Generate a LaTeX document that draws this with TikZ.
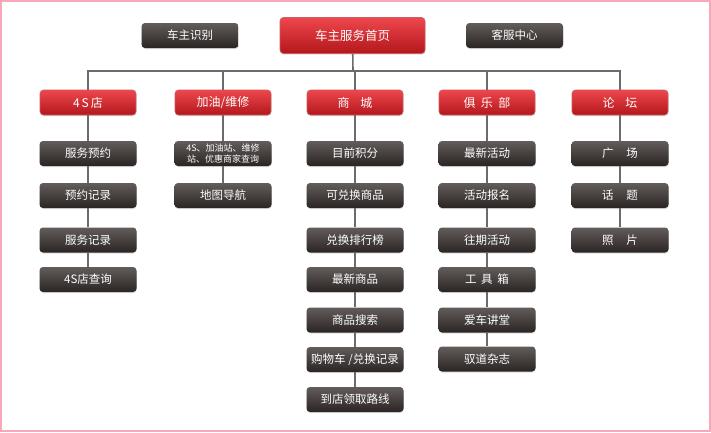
\documentclass[tikz,border=0pt]{standalone}
\usepackage{fontspec}
\setmainfont{Noto Sans CJK SC}
\usetikzlibrary{positioning, shadows}

\definecolor{redtop}{HTML}{EE474D}
\definecolor{redbot}{HTML}{B2171C}
\definecolor{darktop}{HTML}{625C5B}
\definecolor{darkbot}{HTML}{2A2422}
\definecolor{linegray}{HTML}{6B6B6B}
\definecolor{framepink}{HTML}{F7A9BB}

\begin{document}
\begin{tikzpicture}[x=1pt, y=-1pt,
  greybox/.style={rectangle, rounded corners=3.5pt, top color=darktop, bottom color=darkbot,
    draw=none, text=white, minimum width=97pt, minimum height=25pt, inner sep=1pt,
    align=center, font=\fontsize{11.5}{13}\selectfont,
    drop shadow={shadow xshift=0.4pt, shadow yshift=-1pt, opacity=0.25}},
  redbox/.style={rectangle, rounded corners=3.5pt, top color=redtop, bottom color=redbot,
    draw=redbot!70!white, line width=0.6pt, text=white, minimum width=96pt, minimum height=25pt,
    font=\fontsize{12}{14}\selectfont,
    drop shadow={shadow xshift=0.4pt, shadow yshift=-1pt, opacity=0.25}},
  link/.style={draw=linegray, line width=1.6pt}]

% Page and frame
\fill[white] (0,0) rectangle (711,432);
\useasboundingbox (0,0) rectangle (711,432);
\draw[framepink, line width=2pt] (1,1) rectangle (710,431);

% Top row
\node[greybox] (owner) at (190,35.5) {车主识别};
\node[redbox, minimum width=145pt, minimum height=36pt, font=\fontsize{12.5}{14}\selectfont] (home) at (352.5,35.5) {车主服务首页};
\node[greybox] (service) at (514.5,35.5) {客服中心};

% Categories
\node[redbox] (dealer-0) at (88,102.5) {4\,S\,店};
\node[redbox] (fuel-0) at (223,102.5) {加油/维修};
\node[redbox] (mall-0) at (355,102.5) {商\hspace{0.9em}城};
\node[redbox] (club-0) at (487,102.5) {俱\hspace{0.45em}乐\hspace{0.45em}部};
\node[redbox] (forum-0) at (620,102.5) {论\hspace{0.9em}坛};

% Bus
\coordinate (bus) at (353,71);
\draw[link] (home) -- (bus);
\draw[link] (dealer-0) -- (dealer-0 |- bus) -- (forum-0 |- bus) -- (forum-0);
\foreach \n in {fuel, mall, club}
  \draw[link] (\n-0) -- (\n-0 |- bus);

% 4S store
\foreach \y/\txt [count=\i, remember=\i as \j (initially 0)] in {153.5/服务预约, 195.5/预约记录, 240/服务记录, 279.5/4S店查询} {
  \node[greybox] (dealer-\i) at (88,\y) {\txt};
  \draw[link] (dealer-\j) -- (dealer-\i);
}

% Fuel / repair
\node[greybox, font=\fontsize{9}{10.5}\selectfont] (fuel-1) at (223,153.5) {4S、加油站、维修\\站、优惠商家查询};
\node[greybox] (fuel-2) at (223,195.5) {地图导航};
\draw[link] (fuel-0) -- (fuel-1);
\draw[link] (fuel-1) -- (fuel-2);

% Mall
\foreach \y/\txt [count=\i, remember=\i as \j (initially 0)] in {153.5/目前积分, 195.5/可兑换商品, 240/兑换排行榜, 279.5/最新商品, 320/商品搜索, 359.5/购物车 \slash 兑换记录, 399.5/到店领取路线} {
  \node[greybox] (mall-\i) at (355,\y) {\txt};
  \draw[link] (mall-\j) -- (mall-\i);
}

% Club
\foreach \y/\txt [count=\i, remember=\i as \j (initially 0)] in {153.5/最新活动, 195.5/活动报名, 240/往期活动, 279.5/工\hspace{0.4em}具\hspace{0.4em}箱, 320/爱车讲堂, 359/驭道杂志} {
  \node[greybox] (club-\i) at (487,\y) {\txt};
  \draw[link] (club-\j) -- (club-\i);
}

% Forum
\foreach \y/\txt [count=\i, remember=\i as \j (initially 0)] in {153.5/广\hspace{1.1em}场, 195.5/话\hspace{1.1em}题, 240/照\hspace{1.1em}片} {
  \node[greybox] (forum-\i) at (620,\y) {\txt};
  \draw[link] (forum-\j) -- (forum-\i);
}

\end{tikzpicture}
\end{document}
